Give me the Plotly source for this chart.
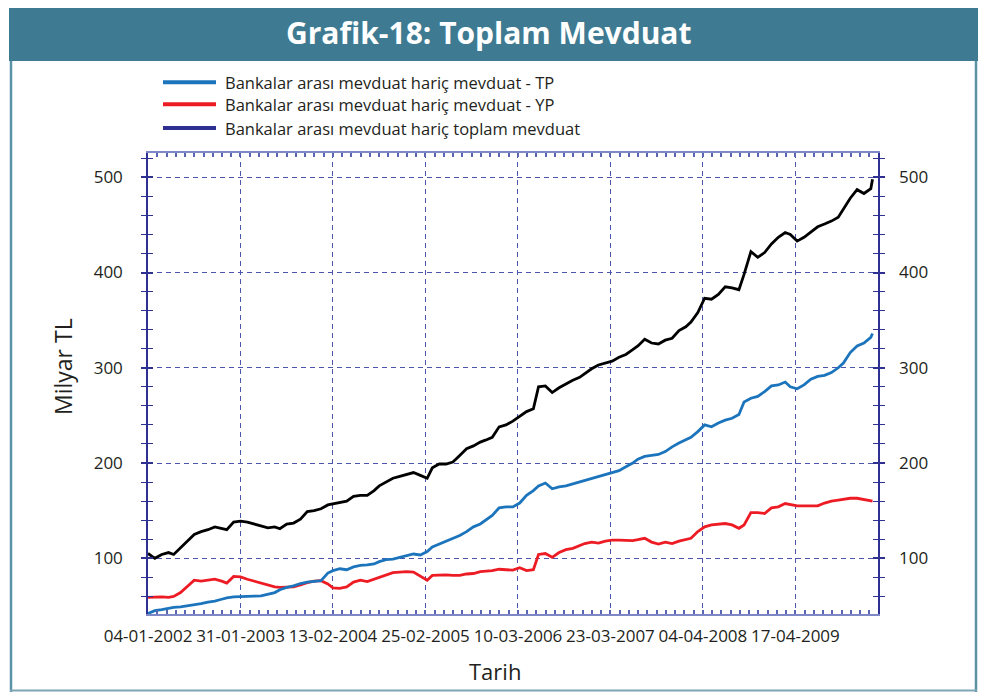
import plotly.graph_objects as go

# ---------------- data ----------------
# x = weekly observation index (one point every ~4 weeks was read)
WEEK = [0, 4, 8, 12, 15, 19, 23, 27, 31, 35, 39, 43, 46, 50, 54, 58, 62, 66, 70, 74,
        77, 81, 85, 89, 93, 97, 101, 105, 108, 112, 116, 120, 124, 128, 132, 135, 139, 143, 147, 151,
        155, 159, 163, 166, 170, 174, 178, 182, 186, 190, 194, 197, 201, 205, 209, 213, 217, 221, 225, 228,
        232, 236, 240, 244, 248, 252, 255, 259, 263, 267, 271, 275, 279, 283, 286, 290, 294, 298, 302, 306,
        310, 314, 317, 321, 325, 329, 333, 337, 341, 345, 348, 352, 356, 360, 364, 368, 372, 375, 379, 383,
        387, 391, 395, 399, 403, 406, 410, 414, 418, 422, 423]

TOTAL = [105, 100, 104, 106, 104, 111, 118, 125, 128, 130, 133, 131, 130, 138, 139, 138, 136, 134, 132, 133,
         131, 136, 137, 141, 149, 150, 152, 156, 157, 158, 160, 165, 166, 166, 171, 176, 180, 184, 186, 188,
         190, 187, 184, 195, 199, 199, 201, 208, 215, 218, 222, 224, 227, 238, 240, 244, 249, 254, 257, 280,
         281, 274, 279, 283, 287, 290, 294, 299, 303, 305, 307, 311, 314, 319, 323, 330, 326, 325, 329, 331,
         339, 343, 348, 358, 373, 372, 377, 385, 384, 382, 398, 422, 416, 421, 430, 437, 442, 440, 433, 437,
         443, 448, 451, 454, 458, 466, 478, 487, 483, 488, 498]

TP = [42, 45, 46, 47.5, 48.5, 49, 50, 51, 52.5, 54, 55, 57, 58.5, 59.5, 60, 60.2, 60.3, 60.5, 62, 64,
      67, 69.5, 71, 73.5, 75, 76, 76.5, 84.5, 87, 89, 88, 91, 92.5, 93, 94, 96.5, 98.5, 99, 101, 103,
      104.5, 103.5, 107, 112, 115, 118, 121, 124, 128, 133, 136, 140, 145, 153, 154, 154, 158, 166, 171, 176,
      179, 173, 175, 176, 178, 180, 182, 184, 186, 188, 190, 192, 196, 200, 204, 207, 208, 209, 212, 217,
      221, 224, 227, 233, 240, 238, 242, 245, 247, 251, 264, 268, 270, 275, 281, 282, 285, 280, 278, 282,
      288, 291, 292, 295, 300, 305, 316, 323, 326, 332, 336]

YP = [59, 59.5, 59.5, 59, 60, 64, 70, 77, 76, 77, 78, 76, 74, 81, 80.5, 78, 76, 73.5, 72, 70,
      69.5, 69.5, 70, 72, 74.5, 76, 76.5, 73, 69, 68.5, 70, 75, 77, 75.5, 78, 80.5, 83, 85, 85.5, 86,
      85.5, 81, 77, 82, 82.5, 82.5, 82, 82, 83.5, 84, 86, 86.5, 87, 88.5, 88, 87.5, 90, 87, 88, 104,
      105, 101, 106, 109, 110.5, 113, 115.5, 117, 116, 118, 119, 119, 119, 118.5, 119.5, 121, 117, 115, 117, 115.5,
      118, 119.5, 121, 128, 133, 135, 136, 136.5, 135, 131.5, 135, 148, 148, 147, 153, 154, 157.5, 156.5, 155, 155,
      155, 155, 158, 160, 161, 162, 163, 163, 162, 160.5, 160]

TICK_POS = [0, 54, 108, 162, 216, 270, 324, 378]
TICK_TEXT = ["04-01-2002", "31-01-2003", "13-02-2004", "25-02-2005",
             "10-03-2006", "23-03-2007", "04-04-2008", "17-04-2009"]
Y_TICKS = [100, 200, 300, 400, 500]

LEGEND_NAMES = ["Bankalar arası mevduat hariç mevduat - TP",
                "Bankalar arası mevduat hariç mevduat - YP",
                "Bankalar arası mevduat hariç toplam mevduat"]
LEGEND_COLORS = ["#1c75bc", "#ed1c24", "#2e3192"]

TITLE = "Grafik-18: Toplam Mevduat"
Y_TITLE = "Milyar TL"
X_TITLE = "Tarih"

# ---------------- styling ----------------
OFF = 8                       # page body margin in front of the figure
SW, SH = 987, 692             # screen size
W, H = SW - OFF, SH - OFF     # figure size
PL, PR, PT, PB = 148, 878, 153, 614   # plot box in screen pixels
L, R, T, B = PL - OFF, SW - PR, PT - OFF, SH - PB
PW, PH = PR - PL, PB - PT
NAVY = "#2e3192"
GRID = "#4b56aa"
XLINE = "#7f88c6"
TEAL = "#3e7b92"
BORDER = "#5b93a6"
FONT = "Open Sans"
TXT = "#231f20"
Y_RANGE = [41.5, 525.5]
LW = 2.8


def px(x):
    """screen x pixel -> paper x"""
    return (x - PL) / PW


def py(y):
    """screen y pixel -> paper y"""
    return (PB - y) / PH


fig = go.Figure()
fig.add_trace(go.Scatter(x=WEEK, y=YP, mode="lines", line=dict(color="#ed1c24", width=LW),
                         name=LEGEND_NAMES[1], showlegend=False))
fig.add_trace(go.Scatter(x=WEEK, y=TP, mode="lines", line=dict(color="#1c75bc", width=LW),
                         name=LEGEND_NAMES[0], showlegend=False))
fig.add_trace(go.Scatter(x=WEEK, y=TOTAL, mode="lines", line=dict(color="#000000", width=LW),
                         name=LEGEND_NAMES[2], showlegend=False))
# helper traces so that the secondary axes are drawn
fig.add_trace(go.Scatter(x=[None], y=[None], yaxis="y2", showlegend=False, hoverinfo="skip"))
fig.add_trace(go.Scatter(x=[None], y=[None], yaxis="y3", showlegend=False, hoverinfo="skip"))

tickfont = dict(family=FONT, size=17, color=TXT)

fig.update_layout(
    width=W, height=H,
    margin=dict(l=L, r=R, t=T, b=B, pad=0),
    paper_bgcolor="white", plot_bgcolor="white",
    showlegend=False,
    xaxis=dict(range=[0, 426.2], tickmode="array", tickvals=TICK_POS, ticktext=TICK_TEXT,
               ticks="inside", ticklen=4, tickwidth=1.5, tickcolor="#5b66b3",
               mirror="allticks", showline=True, linecolor=XLINE, linewidth=2,
               showgrid=True, gridcolor=GRID, gridwidth=1, griddash="5px,4px",
               zeroline=False, tickfont=tickfont, ticklabelstandoff=6,
               minor=dict(tick0=0, dtick=5.4, ticks="inside", ticklen=4, tickwidth=1.5,
                          tickcolor="#5b66b3", showgrid=False)),
    yaxis=dict(range=Y_RANGE, tickmode="array", tickvals=Y_TICKS,
               ticks="outside", ticklen=5, tickwidth=1.5, tickcolor=NAVY,
               mirror="allticks", showline=True, linecolor=NAVY, linewidth=1.5,
               showgrid=True, gridcolor=GRID, gridwidth=1, griddash="5px,4px",
               zeroline=False, tickfont=tickfont, ticklabelstandoff=15,
               minor=dict(tick0=0, dtick=20, ticks="outside", ticklen=5, tickwidth=1.3,
                          tickcolor=NAVY, showgrid=False)),
    yaxis2=dict(range=Y_RANGE, overlaying="y", side="right", tickmode="array", tickvals=Y_TICKS,
                ticks="", showline=False, showgrid=False, zeroline=False,
                tickfont=tickfont, ticklabelstandoff=20),
    yaxis3=dict(range=Y_RANGE, overlaying="y", side="left", tickmode="array", tickvals=Y_TICKS,
                ticks="inside", ticklen=5, tickwidth=1.5, tickcolor=NAVY, mirror="allticks",
                showticklabels=False, showline=False, showgrid=False, zeroline=False,
                minor=dict(tick0=0, dtick=20, ticks="inside", ticklen=5, tickwidth=1.3,
                           tickcolor=NAVY, showgrid=False)),
)

shapes = [
    # title band
    dict(type="rect", xref="paper", yref="paper", x0=px(9), x1=px(978), y0=py(61), y1=py(0),
         fillcolor=TEAL, line=dict(width=0), layer="below"),
    # frame lines
    dict(type="line", xref="paper", yref="paper", x0=px(11), x1=px(11), y0=py(61), y1=py(692),
         line=dict(color=BORDER, width=2.5)),
    dict(type="line", xref="paper", yref="paper", x0=px(976), x1=px(976), y0=py(61), y1=py(692),
         line=dict(color=BORDER, width=2.5)),
    dict(type="line", xref="paper", yref="paper", x0=px(10), x1=px(977), y0=py(690.5), y1=py(690.5),
         line=dict(color="#7fa6b5", width=2)),
]
legend_rows = [82.3, 104.3, 128.0]
annotations = [
    dict(text=TITLE, xref="paper", yref="paper", x=px(489), y=py(33), xanchor="center",
         yanchor="middle", showarrow=False,
         font=dict(family=FONT, size=30, color="white", weight="bold")),
    dict(text=Y_TITLE, xref="paper", yref="paper", x=px(63), y=py(367), textangle=-90,
         xanchor="center", yanchor="middle", showarrow=False,
         font=dict(family=FONT, size=23, color=TXT)),
    dict(text=X_TITLE, xref="paper", yref="paper", x=px(495), y=py(671),
         xanchor="center", yanchor="middle", showarrow=False,
         font=dict(family=FONT, size=22, color=TXT)),
]
for name, col, yr in zip(LEGEND_NAMES, LEGEND_COLORS, legend_rows):
    shapes.append(dict(type="line", xref="paper", yref="paper", x0=px(163), x1=px(216),
                       y0=py(yr), y1=py(yr), line=dict(color=col, width=4)))
    annotations.append(dict(text=name, xref="paper", yref="paper", x=px(223), y=py(yr),
                            xanchor="left", yanchor="middle", showarrow=False,
                            font=dict(family=FONT, size=16.5, color=TXT)))

fig.update_layout(shapes=shapes, annotations=annotations)
fig.write_html("out.html")
